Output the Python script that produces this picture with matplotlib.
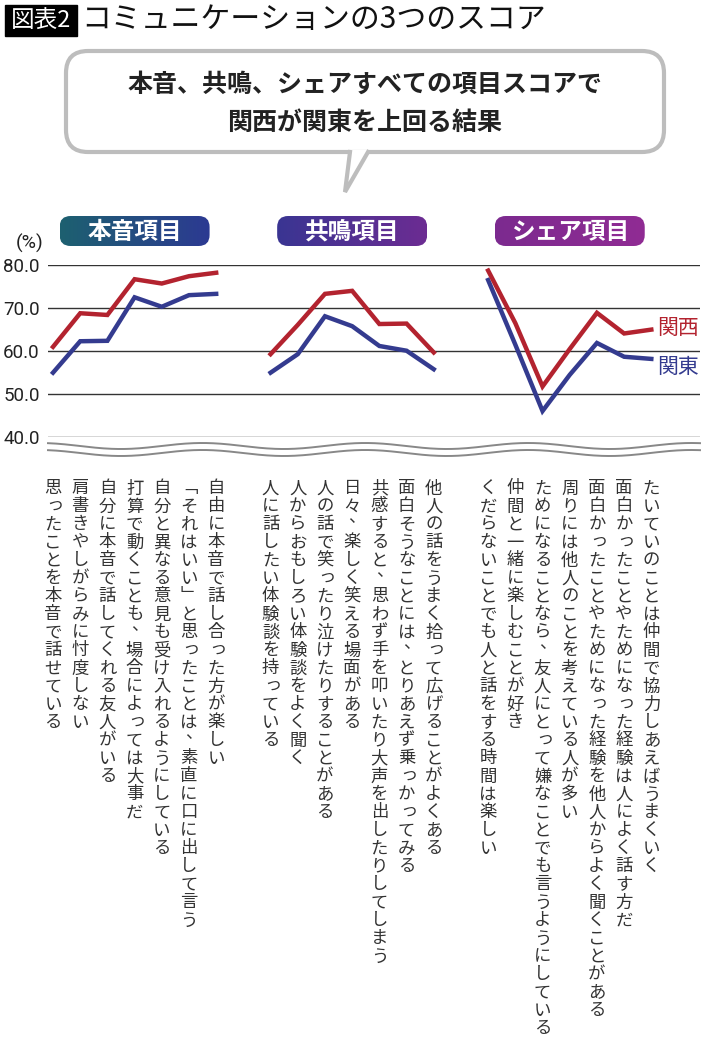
import numpy as np
import matplotlib.pyplot as plt
from matplotlib import transforms, font_manager
from matplotlib.ft2font import FT2Font
from matplotlib.patches import FancyBboxPatch, Polygon, Rectangle
from matplotlib.colors import LinearSegmentedColormap

plt.rcParams['font.family'] = ['Noto Sans CJK JP', 'DejaVu Sans']

# ---- data ----
groups = ['本音項目', '共鳴項目', 'シェア項目']
honne_kansai = [61.0, 68.8, 68.4, 76.7, 75.7, 77.4, 78.2]
honne_kanto = [55.0, 62.3, 62.4, 72.5, 70.3, 73.0, 73.3]
kyomei_kansai = [59.3, 66.1, 73.3, 74.0, 66.3, 66.4, 59.7]
kyomei_kanto = [55.0, 59.3, 68.1, 65.8, 61.2, 60.1, 55.8]
share_kansai = [78.7, 66.5, 51.8, 60.5, 68.9, 64.1, 65.0]
share_kanto = [76.5, 61.5, 46.1, 54.5, 61.9, 58.7, 58.2]

honne_items = ['思ったことを本音で話せている',
               '肩書きやしがらみに忖度しない',
               '自分に本音で話してくれる友人がいる',
               '打算で動くことも、場合によっては大事だ',
               '自分と異なる意見も受け入れるようにしている',
               '「それはいい」と思ったことは、素直に口に出して言う',
               '自由に本音で話し合った方が楽しい']
kyomei_items = ['人に話したい体験談を持っている',
                '人からおもしろい体験談をよく聞く',
                '人の話で笑ったり泣けたりすることがある',
                '日々、楽しく笑える場面がある',
                '共感すると、思わず手を叩いたり大声を出したりしてしまう',
                '面白そうなことには、とりあえず乗っかってみる',
                '他人の話をうまく拾って広げることがよくある']
share_items = ['くだらないことでも人と話をする時間は楽しい',
               '仲間と一緒に楽しむことが好き',
               'ためになることなら、友人にとって嫌なことでも言うようにしている',
               '周りには他人のことを考えている人が多い',
               '面白かったことやためになった経験を他人からよく聞くことがある',
               '面白かったことやためになった経験は人によく話す方だ',
               'たいていのことは仲間で協力しあえばうまくいく']
yticks = [40, 50, 60, 70, 80]
ytick_labels = ['40.0', '50.0', '60.0', '70.0', '80.0']

RED = '#b3232f'
BLUE = '#343b8f'
TXT = '#333333'

names = {f.name for f in font_manager.fontManager.ttflist}
num_font = 'Liberation Sans Narrow' if 'Liberation Sans Narrow' in names else 'Roboto'

# vertical-form brackets if the CJK font has them
cjk_path = font_manager.findfont('Noto Sans CJK JP')
cmap_chars = FT2Font(cjk_path).get_charmap()
has_vert = 0xFE41 in cmap_chars and 0xFE42 in cmap_chars

W, H = 710, 1047
fig = plt.figure(figsize=(W / 100, H / 100), dpi=100)

# overlay in pixel coordinates for decorations
deco = fig.add_axes([0, 0, 1, 1])
deco.set_xlim(0, W)
deco.set_ylim(H, 0)
deco.axis('off')
deco.set_zorder(0)

ax = fig.add_axes([48 / W, 1 - 437.3 / H, (700 - 48) / W, (437.3 - 265) / H])
ax.set_zorder(1)
ax.patch.set_alpha(0)
ax.set_xlim(-0.184, 23.79)
ax.set_ylim(40, 80)
for s in ax.spines.values():
    s.set_visible(False)
ax.set_xticks([])
ax.set_yticks(yticks)
ax.set_yticklabels(ytick_labels, fontfamily=num_font, fontsize=13.5, color='#222')
ax.tick_params(axis='y', length=0, pad=6)
ax.grid(axis='y', color='#333333', lw=1.0)
ax.set_axisbelow(True)

# x positions: three groups of seven, gap of one slot
xs = [np.arange(7), np.arange(8, 15), np.arange(16, 23)]
kansai = [honne_kansai, kyomei_kansai, share_kansai]
kanto = [honne_kanto, kyomei_kanto, share_kanto]
for x, k, t in zip(xs, kansai, kanto):
    ax.plot(x, t, color=BLUE, lw=3.2, solid_joinstyle='miter', zorder=3)
    ax.plot(x, k, color=RED, lw=3.2, solid_joinstyle='miter', zorder=4)

ax.text(22.2, share_kansai[-1] + 0.3, '関西', color=RED, fontsize=15,
        ha='left', va='center', clip_on=False)
ax.text(22.2, share_kanto[-1] - 1.8, '関東', color=BLUE, fontsize=15,
        ha='left', va='center', clip_on=False)

deco.text(30, 243, '(%)', fontfamily=num_font, fontsize=14, color='#222',
          ha='center', va='center')

# axis break
wx = np.linspace(48, 700, 400)
for y0 in (446, 453):
    deco.plot(wx, y0 + 3 * np.sin(2 * np.pi * (wx - 80) / 163), color='#888888', lw=1.4)

# group badges with gradients
badge_colors = [('#1d6070', '#2c3a92'), ('#3a3592', '#6c2c92'), ('#7c2a8f', '#902c94')]
xdisp = lambda d: ax.transData.transform((d, 60))[0]
for g, x, (c0, c1) in zip(groups, xs, badge_colors):
    cx = xdisp(x.mean())
    x0, x1, y0, y1 = cx - 75, cx + 75, 216, 246
    patch = FancyBboxPatch((x0, y0), x1 - x0, y1 - y0,
                           boxstyle='round,pad=0,rounding_size=11',
                           fc='none', ec='none')
    deco.add_patch(patch)
    cmap = LinearSegmentedColormap.from_list('b', [c0, c1])
    im = deco.imshow(np.linspace(0, 1, 100)[None, :], cmap=cmap, aspect='auto',
                     extent=(x0, x1, y1, y0), zorder=2)
    im.set_clip_path(patch)
    deco.text(cx, 232, g, color='white', fontsize=17, fontweight='bold',
              ha='center', va='center', zorder=3)
deco.set_xlim(0, W)
deco.set_ylim(H, 0)

# vertical item labels, one character per cell
trans = transforms.blended_transform_factory(ax.transData, deco.transData)
px = 1 / 27.2
SMALL = set('っゃゅょぁぃぅぇぉ')
FS = 12.5
for x, items in zip(xs, [honne_items, kyomei_items, share_items]):
    for xi, label in zip(x, items):
        for i, ch in enumerate(label):
            cy = 487 + 18 * i
            kw = dict(transform=trans, fontsize=FS, color=TXT, clip_on=False)
            if ch == '、':
                ax.text(xi + 5 * px, cy - 1, ch, ha='center', va='baseline', **kw)
            elif ch in '「」':
                if has_vert:
                    vch = '\ufe41' if ch == '「' else '\ufe42'
                    ax.text(xi, cy + 6.5, vch, ha='left', va='baseline',
                            **kw).set_x(xi - 8.7 * px)
                else:
                    dy = 4 if ch == '「' else -4
                    ax.text(xi, cy + dy, ch, rotation=-90, rotation_mode='anchor',
                            ha='center', va='center', **kw)
            elif ch in SMALL:
                ax.text(xi + 2 * px, cy + 4.5, ch, ha='center', va='baseline', **kw)
            else:
                ax.text(xi, cy + 6.5, ch, ha='center', va='baseline', **kw)

# title
deco.add_patch(Rectangle((5, 5), 72, 31, color='black'))
deco.text(41, 21, '図表2', color='white', fontsize=17, ha='center', va='center')
deco.text(81, 20, 'コミュニケーションの3つのスコア', color='#111', fontsize=21.5,
          ha='left', va='center')

# speech bubble
bub = FancyBboxPatch((66, 51), 598, 101, boxstyle='round,pad=0,rounding_size=22',
                     fc='white', ec='#bdbdbd', lw=3)
deco.add_patch(bub)
deco.add_patch(Polygon([(350, 150), (368, 150), (345, 192)], closed=True,
                       fc='white', ec='none', zorder=3))
deco.plot([350, 345, 368], [152, 192, 152], color='#bdbdbd', lw=3, zorder=4,
          solid_joinstyle='miter')
deco.text(365, 85, '本音、共鳴、シェアすべての項目スコアで', fontsize=18,
          fontweight='bold', color='#222', ha='center', va='center', zorder=5)
deco.text(365, 123, '関西が関東を上回る結果', fontsize=18,
          fontweight='bold', color='#222', ha='center', va='center', zorder=5)

fig.savefig('out.png', dpi=100, facecolor='white')
